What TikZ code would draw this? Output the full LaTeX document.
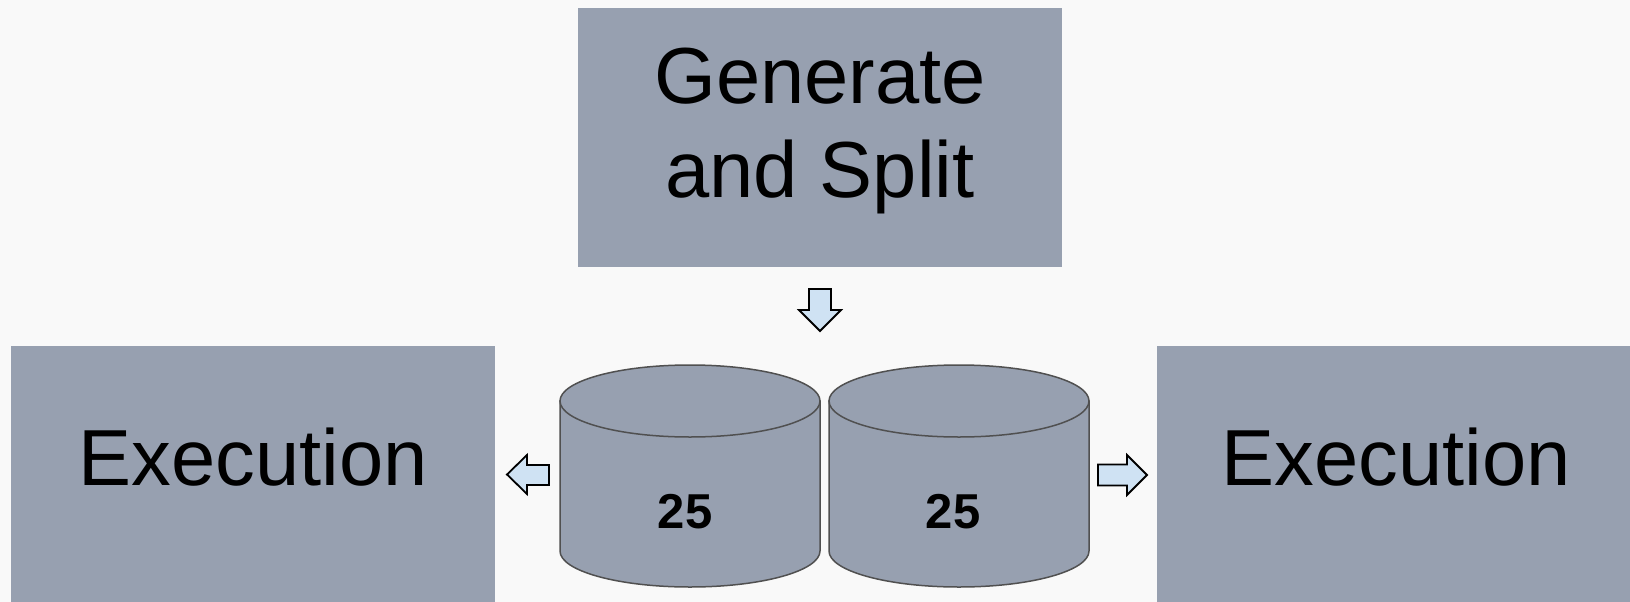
\documentclass[tikz,border=0pt]{standalone}
\usepackage{fontspec}
\setmainfont{Liberation Sans}
\definecolor{pagebg}{HTML}{F9F9F9}
\definecolor{slate}{HTML}{97A0B0}
\definecolor{cylline}{HTML}{505050}
\definecolor{arrowfill}{HTML}{CFE2F3}
\tikzset{
  box/.style={fill=slate, draw=none, inner sep=0pt},
  bigtext/.style={font=\fontsize{79.5}{94}\selectfont, inner sep=0pt, anchor=base},
  numtext/.style={font=\fontsize{49}{58}\selectfont\bfseries, inner sep=0pt, anchor=base},
  cyl/.style={fill=slate, draw=cylline, line width=1.5pt},
  blockarrow/.style={fill=arrowfill, draw=black, line width=1.8pt, line join=miter},
}
\begin{document}
\begin{tikzpicture}[x=1pt,y=-1pt]
  % canvas
  \fill[pagebg] (0,0) rectangle (1630,602);
  \useasboundingbox (0,0) rectangle (1630,602);

  % process boxes
  \node[box, minimum width=484pt, minimum height=259pt] (gen) at (820,137.5) {};
  \node[bigtext] (genA) at (820,103) {Generate};
  \node[bigtext] (genB) at (820,197) {and Split};

  \node[box, minimum width=484pt, minimum height=256pt, anchor=north west] (execL) at (11,346) {};
  \node[bigtext] (execLt) at (253.5,485) {Execution};

  \node[box, minimum width=473pt, minimum height=256pt, anchor=north west] (execR) at (1157,346) {};
  \node[bigtext] (execRt) at (1396,485) {Execution};

  % two storage cylinders
  \foreach \cx in {690, 959}{
    \path[cyl] (\cx-130,401) -- (\cx-130,551)
      arc[start angle=180, end angle=360, x radius=130pt, y radius=36pt]
      -- (\cx+130,401) -- cycle;
    \draw[cyl] (\cx,401) ellipse [x radius=130pt, y radius=36pt];
  }
  \node[numtext] (dbA) at (685,528) {25};
  \node[numtext] (dbB) at (953,528) {25};

  % block arrows
  \draw[blockarrow] (809,289) -- (831,289) -- (831,310) -- (841,310) -- (820,331)
    -- (799,310) -- (809,310) -- cycle;
  \draw[blockarrow] (549,465) -- (549,485) -- (527,485) -- (527,494) -- (507,474.5)
    -- (527,455) -- (527,465) -- cycle;
  \draw[blockarrow] (1098,464.5) -- (1127,464.5) -- (1127,455) -- (1147,475)
    -- (1127,495) -- (1127,485.5) -- (1098,485.5) -- cycle;
\end{tikzpicture}
\end{document}
